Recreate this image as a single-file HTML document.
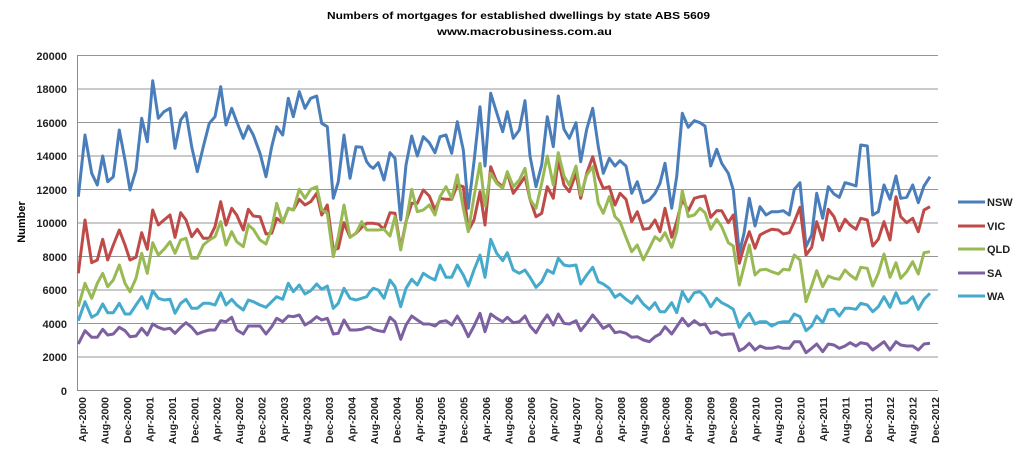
<!DOCTYPE html>
<html><head><meta charset="utf-8"><style>
body{margin:0;background:#fff;}
svg{display:block;font-family:"Liberation Sans",sans-serif;}
</style></head><body>
<svg width="1024" height="456" viewBox="0 0 1024 456" xmlns="http://www.w3.org/2000/svg">
<rect width="1024" height="456" fill="#fff"/>
<text x="327" y="19" textLength="383" lengthAdjust="spacingAndGlyphs" font-size="10.5" font-weight="bold" fill="#000">Numbers of mortgages for established dwellings  by state ABS 5609</text>
<text x="437" y="35" textLength="175" lengthAdjust="spacingAndGlyphs" font-size="10.5" font-weight="bold" fill="#000">www.macrobusiness.com.au</text>
<text transform="translate(25,222) rotate(-90)" text-anchor="middle" font-size="11" font-weight="bold" fill="#000">Number</text>
<g stroke="#959595" stroke-width="1">
<line x1="77" x2="938" y1="55.5" y2="55.5"/><line x1="77" x2="938" y1="89" y2="89"/><line x1="77" x2="938" y1="122.5" y2="122.5"/><line x1="77" x2="938" y1="156" y2="156"/><line x1="77" x2="938" y1="189.5" y2="189.5"/><line x1="77" x2="938" y1="223" y2="223"/><line x1="77" x2="938" y1="256.5" y2="256.5"/><line x1="77" x2="938" y1="290" y2="290"/><line x1="77" x2="938" y1="323.5" y2="323.5"/><line x1="77" x2="938" y1="357" y2="357"/>
</g>
<line x1="77.5" x2="77.5" y1="55" y2="390" stroke="#8c8c8c"/>
<line x1="77" x2="938" y1="390.5" y2="390.5" stroke="#8c8c8c"/>
<g font-size="11" font-weight="bold" fill="#222" text-anchor="end">
<text x="67" y="60">20000</text><text x="67" y="93">18000</text><text x="67" y="127">16000</text><text x="67" y="160">14000</text><text x="67" y="194">12000</text><text x="67" y="227">10000</text><text x="67" y="261">8000</text><text x="67" y="294">6000</text><text x="67" y="328">4000</text><text x="67" y="361">2000</text><text x="67" y="395">0</text>
</g>
<g id="xl" font-size="10.5" font-weight="bold" fill="#222" text-anchor="end"></g>
<g fill="none" stroke-width="3" stroke-linejoin="round" id="series"></g>
<g font-size="11" font-weight="bold" fill="#222">
<line x1="958" x2="985" y1="202" y2="202" stroke="#4A7EBB" stroke-width="3"/><text x="987" y="206">NSW</text>
<line x1="958" x2="985" y1="226" y2="226" stroke="#BE4B48" stroke-width="3"/><text x="987" y="230">VIC</text>
<line x1="958" x2="985" y1="249" y2="249" stroke="#98B954" stroke-width="3"/><text x="987" y="253">QLD</text>
<line x1="958" x2="985" y1="273" y2="273" stroke="#7D60A0" stroke-width="3"/><text x="987" y="277">SA</text>
<line x1="958" x2="985" y1="296" y2="296" stroke="#46AACC" stroke-width="3"/><text x="987" y="300">WA</text>
</g>
</svg>
<script>
var ns="http://www.w3.org/2000/svg";
var mon=["Apr","Aug","Dec"],xl=document.getElementById("xl");
for(var k=0;k<39;k++){var y=2000+Math.floor(k/3);var t=document.createElementNS(ns,"text");
var x=82+22.45*k;t.setAttribute("transform","translate("+(x+4)+",397) rotate(-90)");t.textContent=mon[k%3]+"-"+y;xl.appendChild(t);}
var D={
"#4A7EBB":[
"25:470,45:285,65:400,82:435,98:348,113:425,130:410,148:270,165:360,180:450,198:390,215:235,232:305,248:122,265:235,282:215,300:205,315:325,332:240,348:218,365:320,382:395,400:320,418:250,435:230,452:140,468:255,485:205,500:245,520:295,535:258,550:285,570:340,588:410,605:320,620:260,638:285,655:175,670:230,688:155,705:205,722:175,740:168,755:250,772:260,790:475,805:425,822:285,840:415,858:320,875:322,890:365,900:378",
"30:378,40:385,55:368,72:420,90:338,105:355,122:540,138:375,155:288,172:348,190:290,208:308,225:338,240:290,258:285,275:340,292:245,310:330,325:505,342:365,360:200,375:378,392:160,410:218,428:275,442:215,460:295,478:270,495:182,510:348,528:440,545:375,562:230,580:320,595:168,612:268,628:295,648:248,662:365,680:268,698:205,715:320,730:400,748:355,765:378,780:362,798:378,815:460,832:425,850:488,868:480,885:460,900:430",
"30:430,45:370,65:505,80:410,97:220,115:262,133:242,150:248,165:258,182:378,200:328,215:370,235:400,250:450,268:640,282:580,298:475,315:558,330:500,348:525,365:515,385:515,400:512,418:525,433:448,450:428,468:620,485:585,500:460,518:535,535:440,552:462,568:472,585:428,600:432,618:438,632:315,652:318,668:525,685:515,702:435,720:478,738:408,752:475,770:472,788:435,805:488,822:438,840:410"],
"#BE4B48":[
"25:700,45:540,65:668,82:660,98:598,113:660,130:615,148:570,165:615,180:660,198:652,215:578,232:628,248:510,265:555,282:540,300:525,315:592,332:518,348:540,365:590,382:568,400:595,418:595,435:560,452:485,468:555,485:505,500:525,520:570,535:508,550:528,570:530,588:582,605:580,620:535,638:548,655:505,670:510,688:478,705:495,722:485,740:460,755:525,772:495,790:630,805:625,822:548,840:592,858:580,875:562,890:550,900:550",
"30:550,40:550,55:552,72:568,90:518,105:520,122:625,138:545,155:490,172:490,190:450,208:468,225:510,240:475,258:478,275:478,292:435,310:440,325:572,342:540,360:455,375:555,392:380,410:425,428:440,442:398,460:460,478:435,495:410,510:478,528:530,545:520,562:440,580:475,595:360,612:435,628:455,648:400,662:475,680:400,698:350,715:410,730:445,748:440,765:495,780:460,798:478,815:545,832:515,850:568,868:565,885:540,900:575",
"30:575,45:505,65:592,80:545,97:478,115:512,133:475,150:470,165:468,182:532,200:512,215:512,235:548,250:525,268:670,282:620,298:575,315:625,330:585,348:575,365:568,385:570,400:582,418:578,433:545,450:502,468:645,485:622,500:545,518:600,535:508,552:530,568:572,585:538,600:555,618:568,632:535,652:540,668:618,685:598,702:545,720:600,738:470,752:530,770:548,788:535,805:575,822:510,840:500"],
"#98B954":[
"25:800,45:730,65:775,82:730,98:700,113:740,130:720,148:675,165:730,180:755,198:715,215:640,232:700,248:608,265:645,282:628,300:605,315:640,332:600,348:595,365:655,382:655,400:615,418:600,435:590,452:545,468:615,485:575,500:605,520:620,535:555,550:568,570:600,588:612,605:565,620:490,638:548,655:505,670:510,688:448,705:475,722:448,740:440,755:510,772:520,790:650,805:590,822:495,840:592,858:580,875:545,890:570,900:570",
"30:570,40:570,55:570,72:568,90:588,105:530,122:630,138:548,155:448,172:515,190:510,208:495,225:525,240:470,258:440,275:475,292:405,310:505,325:575,342:470,360:370,375:498,392:400,410:430,428:445,442:395,460:440,478:420,495:385,510:478,528:505,545:430,562:348,580:435,595:338,612:408,628:435,648:378,662:465,680:405,698:380,715:490,730:520,748:470,765:530,780:545,798:592,815:635,832:615,850:660,868:625,885:590,900:602",
"30:602,45:578,65:622,80:575,97:452,115:530,133:525,150:505,165:518,182:568,200:538,215:560,235:608,250:618,268:735,282:680,298:615,315:705,330:690,348:688,365:695,385:702,400:688,418:690,433:645,450:660,468:785,485:738,500:692,518:740,535:708,552:715,568:718,585:690,600:705,618:718,632:682,652:685,668:738,685:700,702:642,720:712,738:668,752:715,770:695,788:665,805:702,822:638,840:635"],
"#7D60A0":[
"25:912,45:872,65:892,82:892,98:868,113:885,130:882,148:862,165:872,180:890,198:888,215:865,232:885,248:852,265:862,282:868,300:865,315:880,332:862,348:848,365:862,382:882,400:875,418:870,435:870,452:842,468:845,485:832,500:870,520:882,535:858,550:858,570:858,588:882,605:860,620:835,638:845,655:828,670:830,688:825,705:855,722:845,740:830,755:840,772:835,790:882,805:880,822:840,840:870,858:870,875:868,890:862,900:862",
"30:862,40:868,55:872,72:875,90:832,105:845,122:898,138:855,155:828,172:840,190:852,208:852,225:858,240:845,258:842,275:855,292:828,310:858,325:890,342:858,360:820,375:875,392:822,410:835,428:845,442:832,460:848,478:845,495:828,510:858,528:878,545:848,562:825,580:855,595:822,612:850,628:852,648:842,662:872,680:850,698:825,715:845,730:865,748:855,765:878,780:875,798:880,815:892,832:890,850:900,868:905,885:890,900:882",
"30:882,45:860,65:882,80:860,97:835,115:858,133:842,150:855,165:852,182:880,200:875,215:885,235:882,250:882,268:932,282:925,298:910,315:930,330:918,348:925,365:925,385:920,400:925,418:925,433:905,450:905,468:938,485:925,500:912,518:935,535:912,552:915,568:925,585:918,600:908,618:918,632:908,652:912,668:930,685:918,702:905,720:930,738:905,752:915,770:918,788:918,805:930,822:912,840:910"],
"#46AACC":[
"25:842,45:785,65:832,82:822,98:792,113:818,130:818,148:790,165:822,180:822,198:795,215:770,232:805,248:752,265:775,282:780,300:778,315:820,332:790,348:778,365:805,382:805,400:790,418:790,435:795,452:758,468:795,485:778,500:795,520:810,535:780,550:785,570:795,588:802,605:785,620:770,638:778,655:730,670:755,688:735,705:762,722:752,740:732,755:748,772:738,790:805,805:790,822:745,840:775,858:780,875:775,890:770,900:755",
"30:755,40:745,55:750,72:775,90:720,105:740,122:800,138:745,155:718,172:735,190:700,208:712,225:720,240:675,258:712,275:712,292:675,310:705,325:738,342:690,360:645,375:712,392:598,410:640,428:662,442:638,460:690,478:700,495:690,510:712,528:742,545:725,562:690,580:700,595:655,612:675,628:678,648:675,662:732,680:705,698:682,715:725,730:732,748:745,765:772,780:762,798:778,815:790,832:768,850:792,868:808,885:788,900:815",
"30:815,45:815,65:788,80:818,97:755,115:785,133:758,150:755,165:770,182:800,200:775,215:788,235:798,250:808,268:862,282:838,298:820,315:852,330:845,348:845,365:858,385:848,400:845,418:845,433:822,450:830,468:872,485:858,500:828,518:848,535:810,552:808,568:828,585:805,600:805,618:808,632:790,652:795,668:815,685:800,702:770,720:802,738:758,752:790,770:788,788:770,805:808,822:778,840:760"]
};
var offs=[70,360,650],g=document.getElementById("series");
for(var c in D){var pts=[];D[c].forEach(function(s,i){s.split(",").forEach(function(p){var a=p.split(":");pts.push((offs[i]+a[0]/3).toFixed(1)+","+(40+a[1]/3).toFixed(1));});});
var pl=document.createElementNS(ns,"polyline");pl.setAttribute("points",pts.join(" "));pl.setAttribute("stroke",c);g.appendChild(pl);}
</script>
</body></html>
